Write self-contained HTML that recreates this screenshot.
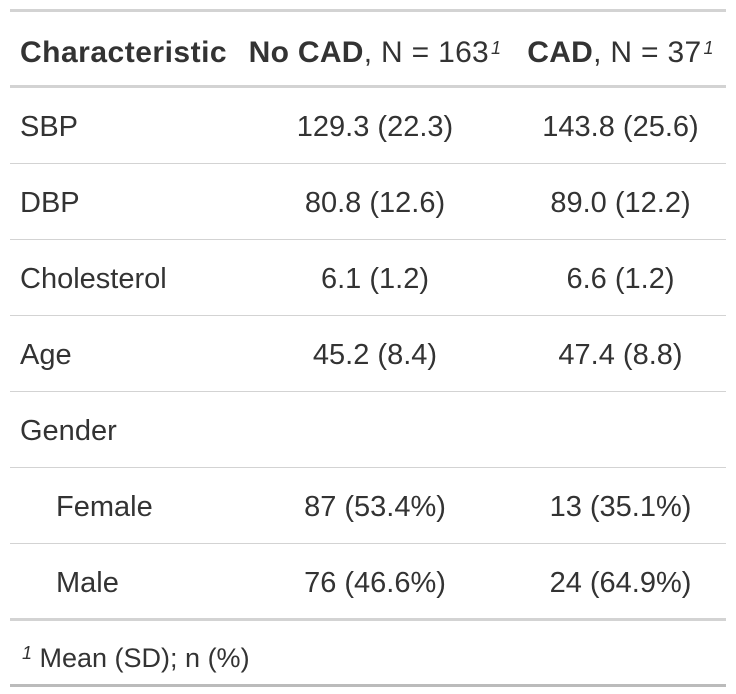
<!DOCTYPE html>
<html><head><meta charset="utf-8"><style>
body{margin:0;width:736px;height:694px;background:#fff;font-family:"Liberation Sans","DejaVu Sans",sans-serif;color:#333;position:relative;overflow:hidden}
.line{position:absolute;left:10px;width:716px;background:#d3d3d3}
.t{position:absolute;font-size:29px;line-height:34px;white-space:nowrap}
.c2{left:235px;width:280px;text-align:center}
.c3{left:515px;width:211px;text-align:center}
.c1{left:20px}
sup{font-size:18px;font-style:italic;vertical-align:top;position:relative;top:-5px;margin-left:2px}
</style></head><body>
<div class="line" style="top:9px;height:3px"></div>
<div class="t c1" style="top:36px;font-weight:bold;font-size:30px;letter-spacing:0.5px">Characteristic</div>
<div class="t" style="top:36px;left:235px;width:280px;text-align:center;font-size:30px;letter-spacing:0.3px"><b>No CAD</b>, N = 163<sup>1</sup></div>
<div class="t" style="top:36px;left:515px;width:211px;text-align:center;font-size:30px;letter-spacing:0.3px"><b>CAD</b>, N = 37<sup>1</sup></div>
<div class="line" style="top:85px;height:3px"></div>

<div class="t c1" style="top:110px">SBP</div>
<div class="t c2" style="top:110px">129.3 (22.3)</div>
<div class="t c3" style="top:110px">143.8 (25.6)</div>
<div class="line" style="top:163px;height:1px"></div>

<div class="t c1" style="top:186px">DBP</div>
<div class="t c2" style="top:186px">80.8 (12.6)</div>
<div class="t c3" style="top:186px">89.0 (12.2)</div>
<div class="line" style="top:239px;height:1px"></div>

<div class="t c1" style="top:262px">Cholesterol</div>
<div class="t c2" style="top:262px">6.1 (1.2)</div>
<div class="t c3" style="top:262px">6.6 (1.2)</div>
<div class="line" style="top:315px;height:1px"></div>

<div class="t c1" style="top:338px">Age</div>
<div class="t c2" style="top:338px">45.2 (8.4)</div>
<div class="t c3" style="top:338px">47.4 (8.8)</div>
<div class="line" style="top:391px;height:1px"></div>

<div class="t c1" style="top:414px">Gender</div>
<div class="line" style="top:467px;height:1px"></div>

<div class="t" style="top:490px;left:56px">Female</div>
<div class="t c2" style="top:490px">87 (53.4%)</div>
<div class="t c3" style="top:490px">13 (35.1%)</div>
<div class="line" style="top:543px;height:1px"></div>

<div class="t" style="top:566px;left:56px">Male</div>
<div class="t c2" style="top:566px">76 (46.6%)</div>
<div class="t c3" style="top:566px">24 (64.9%)</div>
<div class="line" style="top:618px;height:3px"></div>

<div class="t c1" style="top:641px;font-size:27px"><sup>1</sup> Mean (SD); n (%)</div>
<div class="line" style="top:684px;height:3px;background:#bbb"></div>
</body></html>
